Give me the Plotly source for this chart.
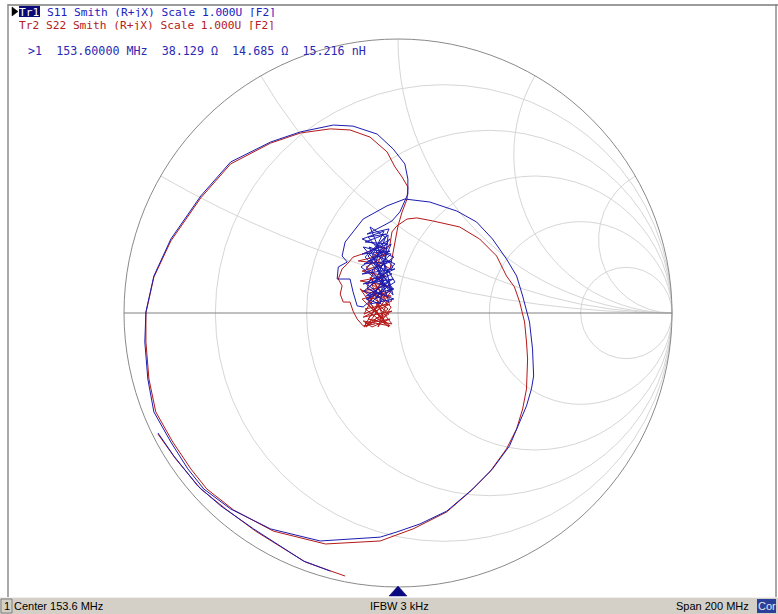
import numpy as np
import plotly.graph_objects as go

W, H = 778, 614

# S11 (Tr1, blue): noisy cluster, then the big spiral loop
s11_re = [-0.065, -0.116, -0.022, -0.102, -0.040, -0.131, -0.051, -0.091, -0.011, -0.124,
          -0.033, -0.073, -0.015, -0.105, -0.044, -0.135, -0.025, -0.084, -0.018, -0.109,
          -0.036, -0.065, -0.116, -0.029,
          -0.084, -0.015, -0.116, -0.018, -0.127, -0.011, -0.131, -0.022, -0.124, -0.029,
          -0.131, -0.036, -0.120, -0.044, -0.109, -0.018, -0.113, -0.015, -0.102, -0.029,
          -0.120, -0.047, -0.102, -0.055, -0.018, -0.095, -0.025, -0.127, -0.036, -0.109,
          -0.011, -0.084, -0.029, -0.116, -0.022, -0.080, -0.033, -0.113, -0.055,
          -0.022, 0.007, 0.036, 0.036, 0.025, -0.018, -0.076, -0.164, -0.236, -0.356,
          -0.465, -0.611, -0.720, -0.829, -0.891, -0.920, -0.924, -0.913, -0.891, -0.829,
          -0.767, -0.709, -0.611, -0.465, -0.284, -0.065, -0.004, 0.080, 0.178, 0.273,
          0.345, 0.407, 0.444, 0.469, 0.487, 0.495, 0.491, 0.480, 0.455, 0.433,
          0.396, 0.345, 0.287, 0.215, 0.116, 0.025, -0.040, -0.127, -0.164, -0.193,
          -0.204, -0.185, -0.218, -0.222, -0.175, -0.164, -0.149, -0.127, -0.095]
s11_im = [0.069, 0.106, 0.142, 0.190, 0.234, 0.270, 0.299, 0.215, 0.179, 0.080,
          0.040, 0.161, 0.204, 0.241, 0.095, 0.168, 0.252, 0.113, 0.088, 0.208,
          0.285, 0.033, 0.051, 0.124,
          0.051, 0.088, 0.062, 0.124, 0.106, 0.161, 0.142, 0.190, 0.179, 0.226,
          0.215, 0.252, 0.259, 0.288, 0.277, 0.168, 0.088, 0.051, 0.033, 0.106,
          0.204, 0.277, 0.314, 0.197, 0.066, 0.153, 0.215, 0.241, 0.135, 0.051,
          0.113, 0.234, 0.270, 0.161, 0.080, 0.190, 0.307, 0.288, 0.318,
          0.336, 0.369, 0.434, 0.489, 0.544, 0.599, 0.653, 0.682, 0.686, 0.661,
          0.624, 0.551, 0.427, 0.270, 0.135, 0.004, -0.106, -0.241, -0.361, -0.471,
          -0.569, -0.642, -0.715, -0.788, -0.832, -0.818, -0.799, -0.770, -0.723, -0.642,
          -0.569, -0.485, -0.398, -0.339, -0.277, -0.230, -0.131, -0.033, 0.062, 0.135,
          0.197, 0.270, 0.332, 0.372, 0.405, 0.416, 0.391, 0.343, 0.296, 0.259,
          0.208, 0.186, 0.168, 0.124, 0.124, 0.077, 0.026, 0.022, 0.051]
s11_tail_re = [-0.876, -0.818, -0.731, -0.647, -0.527, -0.345, -0.247]
s11_tail_im = [-0.438, -0.522, -0.631, -0.704, -0.788, -0.905, -0.942]

# S22 (Tr2, red)
s22_re = [-0.065, -0.131, -0.025, -0.116, -0.036, -0.138, -0.047, -0.095, -0.022, -0.124,
          -0.055, -0.109, -0.029, -0.127,
          -0.095, -0.029, -0.120, -0.022, -0.127, -0.029, -0.120, -0.033, -0.113, -0.025,
          -0.131, -0.036, -0.138, -0.044, -0.131, -0.047, -0.145, -0.040, -0.116, -0.029,
          -0.109, -0.022, -0.084, -0.033, -0.124, -0.055, -0.102, -0.040, -0.073, -0.025,
          -0.113, -0.047, -0.095, -0.029, 0.000,
          0.015, 0.033, 0.036, 0.015, -0.011, -0.040, -0.102, -0.175, -0.247, -0.356,
          -0.465, -0.611, -0.720, -0.829, -0.891, -0.920, -0.920, -0.909, -0.884, -0.822,
          -0.756, -0.698, -0.600, -0.455, -0.265, -0.065, 0.055, 0.178, 0.262, 0.335,
          0.396, 0.433, 0.455, 0.469, 0.473, 0.469, 0.462, 0.444, 0.425, 0.396,
          0.360, 0.298, 0.225, 0.127, 0.069, 0.033, -0.004, -0.022, -0.029, -0.040,
          -0.073, -0.102, -0.131, -0.164, -0.185, -0.204, -0.218, -0.204, -0.211, -0.200,
          -0.175, -0.164, -0.149, -0.127, -0.084]
s22_im = [-0.015, 0.051, 0.080, -0.051, 0.015, 0.088, -0.040, 0.106, 0.044, -0.004,
          0.124, 0.033, -0.047, -0.029,
          -0.051, -0.022, -0.040, 0.007, -0.015, 0.033, 0.015, -0.051, 0.051, 0.062,
          0.080, 0.099, 0.117, 0.135, 0.153, 0.179, 0.190, 0.215, 0.168, 0.088,
          -0.022, -0.040, 0.040, -0.004, -0.051, 0.069, 0.131, 0.040, -0.051, 0.022,
          0.095, 0.241, 0.204, 0.161, 0.318,
          0.369, 0.416, 0.460, 0.496, 0.533, 0.588, 0.642, 0.668, 0.672, 0.657,
          0.620, 0.544, 0.420, 0.263, 0.131, 0.000, -0.106, -0.241, -0.361, -0.471,
          -0.569, -0.642, -0.719, -0.796, -0.843, -0.832, -0.788, -0.726, -0.653, -0.580,
          -0.496, -0.423, -0.350, -0.277, -0.168, -0.106, -0.033, 0.040, 0.095, 0.135,
          0.208, 0.270, 0.314, 0.336, 0.347, 0.343, 0.318, 0.296, 0.252, 0.234,
          0.241, 0.226, 0.215, 0.204, 0.179, 0.161, 0.124, 0.099, 0.069, 0.040,
          0.040, 0.007, -0.022, -0.047, -0.040]
s22_tail_re = [-0.876, -0.811, -0.720, -0.629, -0.520, -0.338, -0.193]
s22_tail_im = [-0.442, -0.533, -0.642, -0.715, -0.796, -0.909, -0.960]

# Grid values (normalized resistance circles / reactance arcs)
r_grid = [0.2, 0.5, 1, 2, 5]
x_grid = [0.268, 0.577, 1, 1.732, 3.732]

header1 = "S11 Smith (R+jX) Scale 1.000U [F2]"
header2 = "Tr2 S22 Smith (R+jX) Scale 1.000U [F2]"
marker_txt = ">1  153.60000 MHz  38.129 Ω  14.685 Ω  15.216 nH"
status_left = "Center 153.6 MHz"
status_mid = "IFBW 3 kHz"
status_right = "Span 200 MHz"

BLUE = "#1c1cb0"
RED = "#b41818"


def to_z(re, im):
    g = np.array(re) + 1j * np.array(im)
    z = (1 + g) / (1 - g)
    return z.real, z.imag


def P(px, py):
    return px / W, 1 - py / H


fig = go.Figure()
for re, im, col in [(s22_re, s22_im, RED), (s22_tail_re, s22_tail_im, RED),
                    (s11_re, s11_im, BLUE), (s11_tail_re, s11_tail_im, BLUE)]:
    zr, zi = to_z(re, im)
    fig.add_trace(go.Scattersmith(real=zr, imag=zi, mode="lines",
                                  line=dict(color=col, width=1), hoverinfo="skip"))

x0, y1 = P(124, 39)
x1, y0 = P(672, 587)
fig.update_layout(
    width=W, height=H, margin=dict(l=0, r=0, t=0, b=0),
    paper_bgcolor="white", showlegend=False,
    smith=dict(
        domain=dict(x=[x0, x1], y=[y0, y1]),
        bgcolor="white",
        realaxis=dict(tickvals=r_grid, showticklabels=False, ticks="",
                      gridcolor="#d6d6d6", gridwidth=1, linecolor="#808080",
                      linewidth=1, layer="below traces"),
        imaginaryaxis=dict(tickvals=x_grid, showticklabels=False, ticks="",
                           gridcolor="#d6d6d6", gridwidth=1, linecolor="#8a8a8a",
                           linewidth=1, layer="below traces"),
    ),
)

shapes = []


def rect(xa, ya, xb, yb, fill, line=None, lw=0):
    ax, ay = P(xa, ya)
    bx, by = P(xb, yb)
    shapes.append(dict(type="rect", xref="paper", yref="paper", x0=ax, y0=by, x1=bx, y1=ay,
                       fillcolor=fill, line=dict(color=line or fill, width=lw), layer="above"))


def hline(xa, xb, y, col, w):
    ax, ay = P(xa, y)
    bx, _ = P(xb, y)
    shapes.append(dict(type="line", xref="paper", yref="paper", x0=ax, y0=ay, x1=bx, y1=ay,
                       line=dict(color=col, width=w)))


def vline(x, ya, yb, col, w):
    ax, ay = P(x, ya)
    _, by = P(x, yb)
    shapes.append(dict(type="line", xref="paper", yref="paper", x0=ax, y0=ay, x1=ax, y1=by,
                       line=dict(color=col, width=w)))


def tri(pts, fill):
    s = "M " + " L ".join(f"{P(a, b)[0]:.5f},{P(a, b)[1]:.5f}" for a, b in pts) + " Z"
    shapes.append(dict(type="path", xref="paper", yref="paper", path=s,
                       fillcolor=fill, line=dict(color=fill, width=0.5)))


# frame
hline(8, 778, 5, "#9c9c9c", 2)
vline(8, 4, 597, "#8c8c8c", 1.5)
vline(776, 4, 597, "#8c8c8c", 1.5)
# status bar
rect(0, 597, 778, 614, "#d4d0c8")
hline(0, 778, 597.5, "#f0f0f0", 1)
rect(1, 599, 12, 613, "#d4d0c8", "#808080", 1)
rect(757, 599, 776, 613, "#2a3f9a")
# Tr1 badge and active arrow
rect(19, 6, 40, 17, "#0a0a78")
tri([(12, 7), (18, 11.5), (12, 16)], "#000000")
# stimulus marker triangle
tri([(389, 596), (407, 596), (398, 586)], "#0a0a80")
fig.update_layout(shapes=shapes)

MONO = "DejaVu Sans Mono"
SANS = "Liberation Sans"
nb = lambda s: s.replace(" ", "\u00a0")


def text(px, py, s, col, size, fam, anchor="left", h=None):
    x, y = P(px, py)
    kw = dict(height=h) if h else {}
    fig.add_annotation(x=x, y=y, xref="paper", yref="paper", text=nb(s), showarrow=False,
                       xanchor=anchor, yanchor="middle", borderpad=0, valign="middle",
                       font=dict(color=col, size=size, family=fam), **kw)


text(18, 11.5, "Tr1", "#ffffff", 11.2, MONO, h=10)
text(46, 11.5, header1, "#2020c0", 11.2, MONO, h=10)
text(18, 24.5, header2, "#b42020", 11.2, MONO, h=10)
text(27, 51, marker_txt, "#2a2ab4", 11.7, MONO)
text(3, 606, "1", "#000000", 11, SANS)
text(13, 606, status_left, "#000000", 11, SANS)
text(399, 606, status_mid, "#000000", 11, SANS, "center")
text(750, 606, status_right, "#000000", 11, SANS, "right")
text(766.5, 606, "Cor", "#e8e8e8", 11, SANS, "center")

fig.write_html("out.html", config={"displayModeBar": False},
               post_script="document.body.style.margin='0';document.body.style.overflow='hidden';")
